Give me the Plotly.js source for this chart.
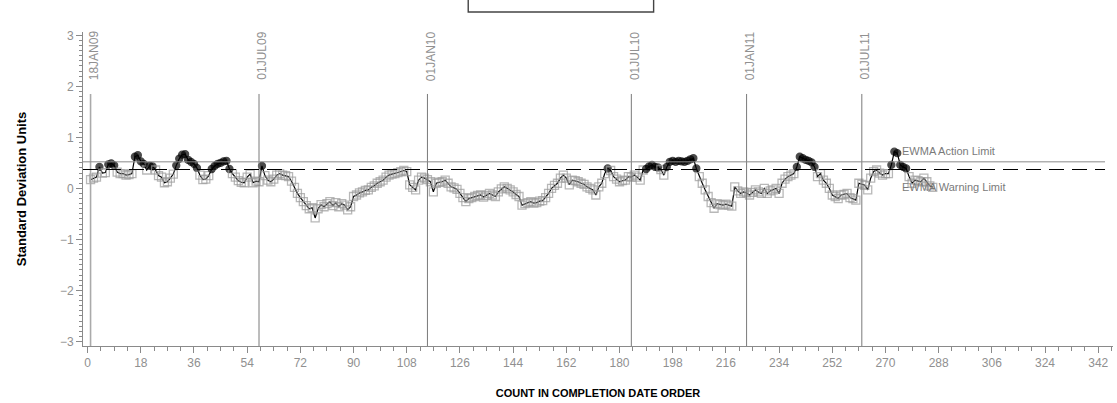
<!DOCTYPE html>
<html>
<head>
<meta charset="utf-8">
<script src="https://cdn.plot.ly/plotly-3.0.1.min.js"></script>
<style>html,body{margin:0;padding:0;background:#fff;}#chart{width:1117px;height:403px;}</style>
</head>
<body>
<div id="chart"></div>
<script>
// EWMA values in standard deviation units, in completion order starting at count 1
const startCount = 1;
const ewma = [
  0.17, 0.20, 0.22, 0.42, 0.30, 0.31, 0.47, 0.49, 0.45, 0.32,
  0.29, 0.29, 0.26, 0.27, 0.29, 0.62, 0.65, 0.53, 0.48, 0.36,
  0.44, 0.43, 0.36, 0.25, 0.22, 0.11, 0.13, 0.20, 0.28, 0.45,
  0.58, 0.66, 0.67, 0.56, 0.52, 0.48, 0.40, 0.26, 0.17, 0.18,
  0.25, 0.38, 0.44, 0.48, 0.50, 0.53, 0.54, 0.38, 0.29, 0.22,
  0.15, 0.12, 0.11, 0.22, 0.28, 0.11, 0.14, 0.13, 0.44, 0.25,
  0.16, 0.13, 0.18, 0.26, 0.29, 0.26, 0.25, 0.23, 0.14, 0.02,
  -0.10, -0.18, -0.26, -0.34, -0.40, -0.38, -0.58, -0.40, -0.32, -0.36,
  -0.30, -0.26, -0.34, -0.28, -0.36, -0.30, -0.33, -0.42, -0.36, -0.16,
  -0.13, -0.09, -0.07, -0.04, -0.03, 0.02, 0.05, 0.10, 0.13, 0.16,
  0.22, 0.26, 0.28, 0.29, 0.31, 0.33, 0.35, 0.33, 0.07, 0.02,
  -0.03, 0.16, 0.22, 0.20, 0.17, 0.13, -0.07, 0.10, 0.12, 0.13,
  0.16, 0.10, 0.03, 0.01, -0.02, -0.10, -0.18, -0.26, -0.20, -0.18,
  -0.16, -0.14, -0.13, -0.17, -0.14, -0.10, -0.13, -0.16, -0.07, -0.01,
  0.03, 0.00, -0.03, -0.07, -0.12, -0.16, -0.33, -0.30, -0.28, -0.26,
  -0.29, -0.28, -0.25, -0.24, -0.18, -0.10, 0.00, 0.06, 0.10, 0.20,
  0.26, 0.20, 0.07, 0.16, 0.15, 0.13, 0.10, 0.08, 0.03, 0.00,
  -0.03, -0.13, 0.03, 0.10, 0.29, 0.39, 0.35, 0.23, 0.18, 0.13,
  0.15, 0.16, 0.23, 0.22, 0.26, 0.22, 0.16, 0.36, 0.38, 0.43,
  0.46, 0.42, 0.41, 0.37, 0.26, 0.42, 0.52, 0.54, 0.52, 0.54,
  0.53, 0.52, 0.54, 0.57, 0.59, 0.39, 0.23, 0.10, -0.03, -0.16,
  -0.28, -0.39, -0.30, -0.32, -0.33, -0.31, -0.33, -0.35, 0.03, -0.05,
  -0.10, -0.07, -0.09, -0.13, -0.08, -0.03, -0.07, -0.10, 0.00, -0.10,
  -0.05, -0.03, 0.00, -0.10, 0.10, 0.18, 0.23, 0.26, 0.29, 0.42,
  0.62, 0.59, 0.56, 0.54, 0.51, 0.42, 0.23, 0.29, 0.16, 0.10,
  0.00, -0.13, -0.16, -0.20, -0.13, -0.12, -0.10, -0.18, -0.20, -0.23,
  0.10, 0.08, 0.06, -0.03, 0.20, 0.33, 0.36, 0.30, 0.26, 0.29,
  0.29, 0.46, 0.72, 0.69, 0.46, 0.42, 0.39, 0.23, 0.10, 0.16,
  0.15, 0.13, 0.20, 0.13, 0.05, 0.02
];
const actionLimit = 0.52;
const warningLimit = 0.37;
const refCounts = [1, 58, 115, 184, 223, 262];
const refLabels = ['18JAN09', '01JUL09', '01JAN10', '01JUL10', '01JAN11', '01JUL11'];
const xTickVals = [0, 18, 36, 54, 72, 90, 108, 126, 144, 162, 180, 198, 216, 234, 252, 270, 288, 306, 324, 342];
const yTickVals = [-3, -2, -1, 0, 1, 2, 3];
const limitLabels = ['EWMA Action Limit', 'EWMA Warning Limit'];

const counts = ewma.map((v, k) => startCount + k);
const above = ewma.map(v => v > warningLimit);

const gray = '#8a8a8a';
const tickFont = {family: 'Liberation Sans, Arial, sans-serif', size: 12, color: '#909090'};

const traces = [{
  x: counts, y: ewma, type: 'scatter', mode: 'lines+markers',
  line: {color: '#000', width: 1.2},
  marker: {
    symbol: above.map(a => a ? 'circle' : 'square-open'),
    size: above.map(a => a ? 7 : 8),
    color: above.map(a => a ? '#000' : '#9a9a9a'),
    line: {width: 1.3, color: above.map(a => a ? '#000' : '#9a9a9a')}
  },
  hoverinfo: 'x+y', showlegend: false
}];

const shapes = [];
const annotations = [];
refCounts.forEach((c, k) => {
  shapes.push({type: 'line', xref: 'x', yref: 'y', x0: c, x1: c, y0: -3.09, y1: 1.85,
    line: {color: k === 0 ? '#aaaaaa' : '#7a7a7a', width: k === 0 ? 1.6 : 1}});
  annotations.push({xref: 'x', yref: 'y', x: c, y: 2.6, xshift: 3, text: refLabels[k],
    textangle: -90, showarrow: false, xanchor: 'center', yanchor: 'middle',
    font: {family: 'Liberation Sans, Arial, sans-serif', size: 12, color: '#909090'}});
});
shapes.push({type: 'line', xref: 'x', yref: 'y', x0: -1.56, x1: 344.3, y0: actionLimit, y1: actionLimit,
  line: {color: '#8a8a8a', width: 1}});
shapes.push({type: 'line', xref: 'x', yref: 'y', x0: -1.56, x1: 344.3, y0: warningLimit, y1: warningLimit,
  line: {color: '#000', width: 1.2, dash: '15px,8px'}});
// partially visible header box at the top
shapes.push({type: 'rect', xref: 'paper', yref: 'paper', x0: 0.374, x1: 0.554, y0: 1.0637, y1: 1.2,
  line: {color: '#444', width: 1.4}, fillcolor: '#fff'});

annotations.push({xref: 'x', yref: 'y', x: 274.8, y: 0.73, text: limitLabels[0], showarrow: false,
  xanchor: 'left', yanchor: 'middle', font: {family: 'Liberation Sans Narrow, Liberation Sans, Arial, sans-serif', size: 11, color: '#7a7a7a'}});
annotations.push({xref: 'x', yref: 'y', x: 274.8, y: 0.02, text: limitLabels[1], showarrow: false,
  xanchor: 'left', yanchor: 'middle', font: {family: 'Liberation Sans Narrow, Liberation Sans, Arial, sans-serif', size: 11, color: '#7a7a7a'}});

const layout = {
  width: 1117, height: 403,
  margin: {l: 83, r: 4, t: 32, b: 57},
  paper_bgcolor: '#fff', plot_bgcolor: '#fff',
  showlegend: false,
  xaxis: {
    range: [-1.56, 347], tickvals: xTickVals, ticktext: xTickVals.map(String),
    showgrid: false, zeroline: false, showline: true, linecolor: gray, linewidth: 1,
    ticks: 'outside', ticklen: 6, tickcolor: gray, tickfont: tickFont,
    minor: {dtick: 4.5, tick0: 0, ticks: 'outside', ticklen: 4, tickcolor: gray, showgrid: false},
    title: {text: 'COUNT IN COMPLETION DATE ORDER', standoff: 19,
      font: {family: 'Liberation Sans Narrow, Liberation Sans, Arial, sans-serif', size: 11, color: '#000', weight: 'bold'}}
  },
  yaxis: {
    range: [-3.09, 3.065], tickvals: yTickVals, ticktext: yTickVals.map(v => v < 0 ? '\u2212' + Math.abs(v) : String(v)),
    showgrid: false, zeroline: false, showline: true, linecolor: gray, linewidth: 1,
    ticks: 'outside', ticklen: 6, tickcolor: gray, tickfont: tickFont,
    minor: {dtick: 0.1, tick0: 0, ticks: 'outside', ticklen: 3, tickcolor: gray, showgrid: false},
    title: {text: 'Standard Deviation Units', standoff: 30,
      font: {family: 'Liberation Sans, Arial, sans-serif', size: 13, color: '#000', weight: 'bold'}}
  },
  shapes: shapes,
  annotations: annotations
};

Plotly.newPlot('chart', traces, layout, {displayModeBar: false, staticPlot: true});
</script>
</body>
</html>
